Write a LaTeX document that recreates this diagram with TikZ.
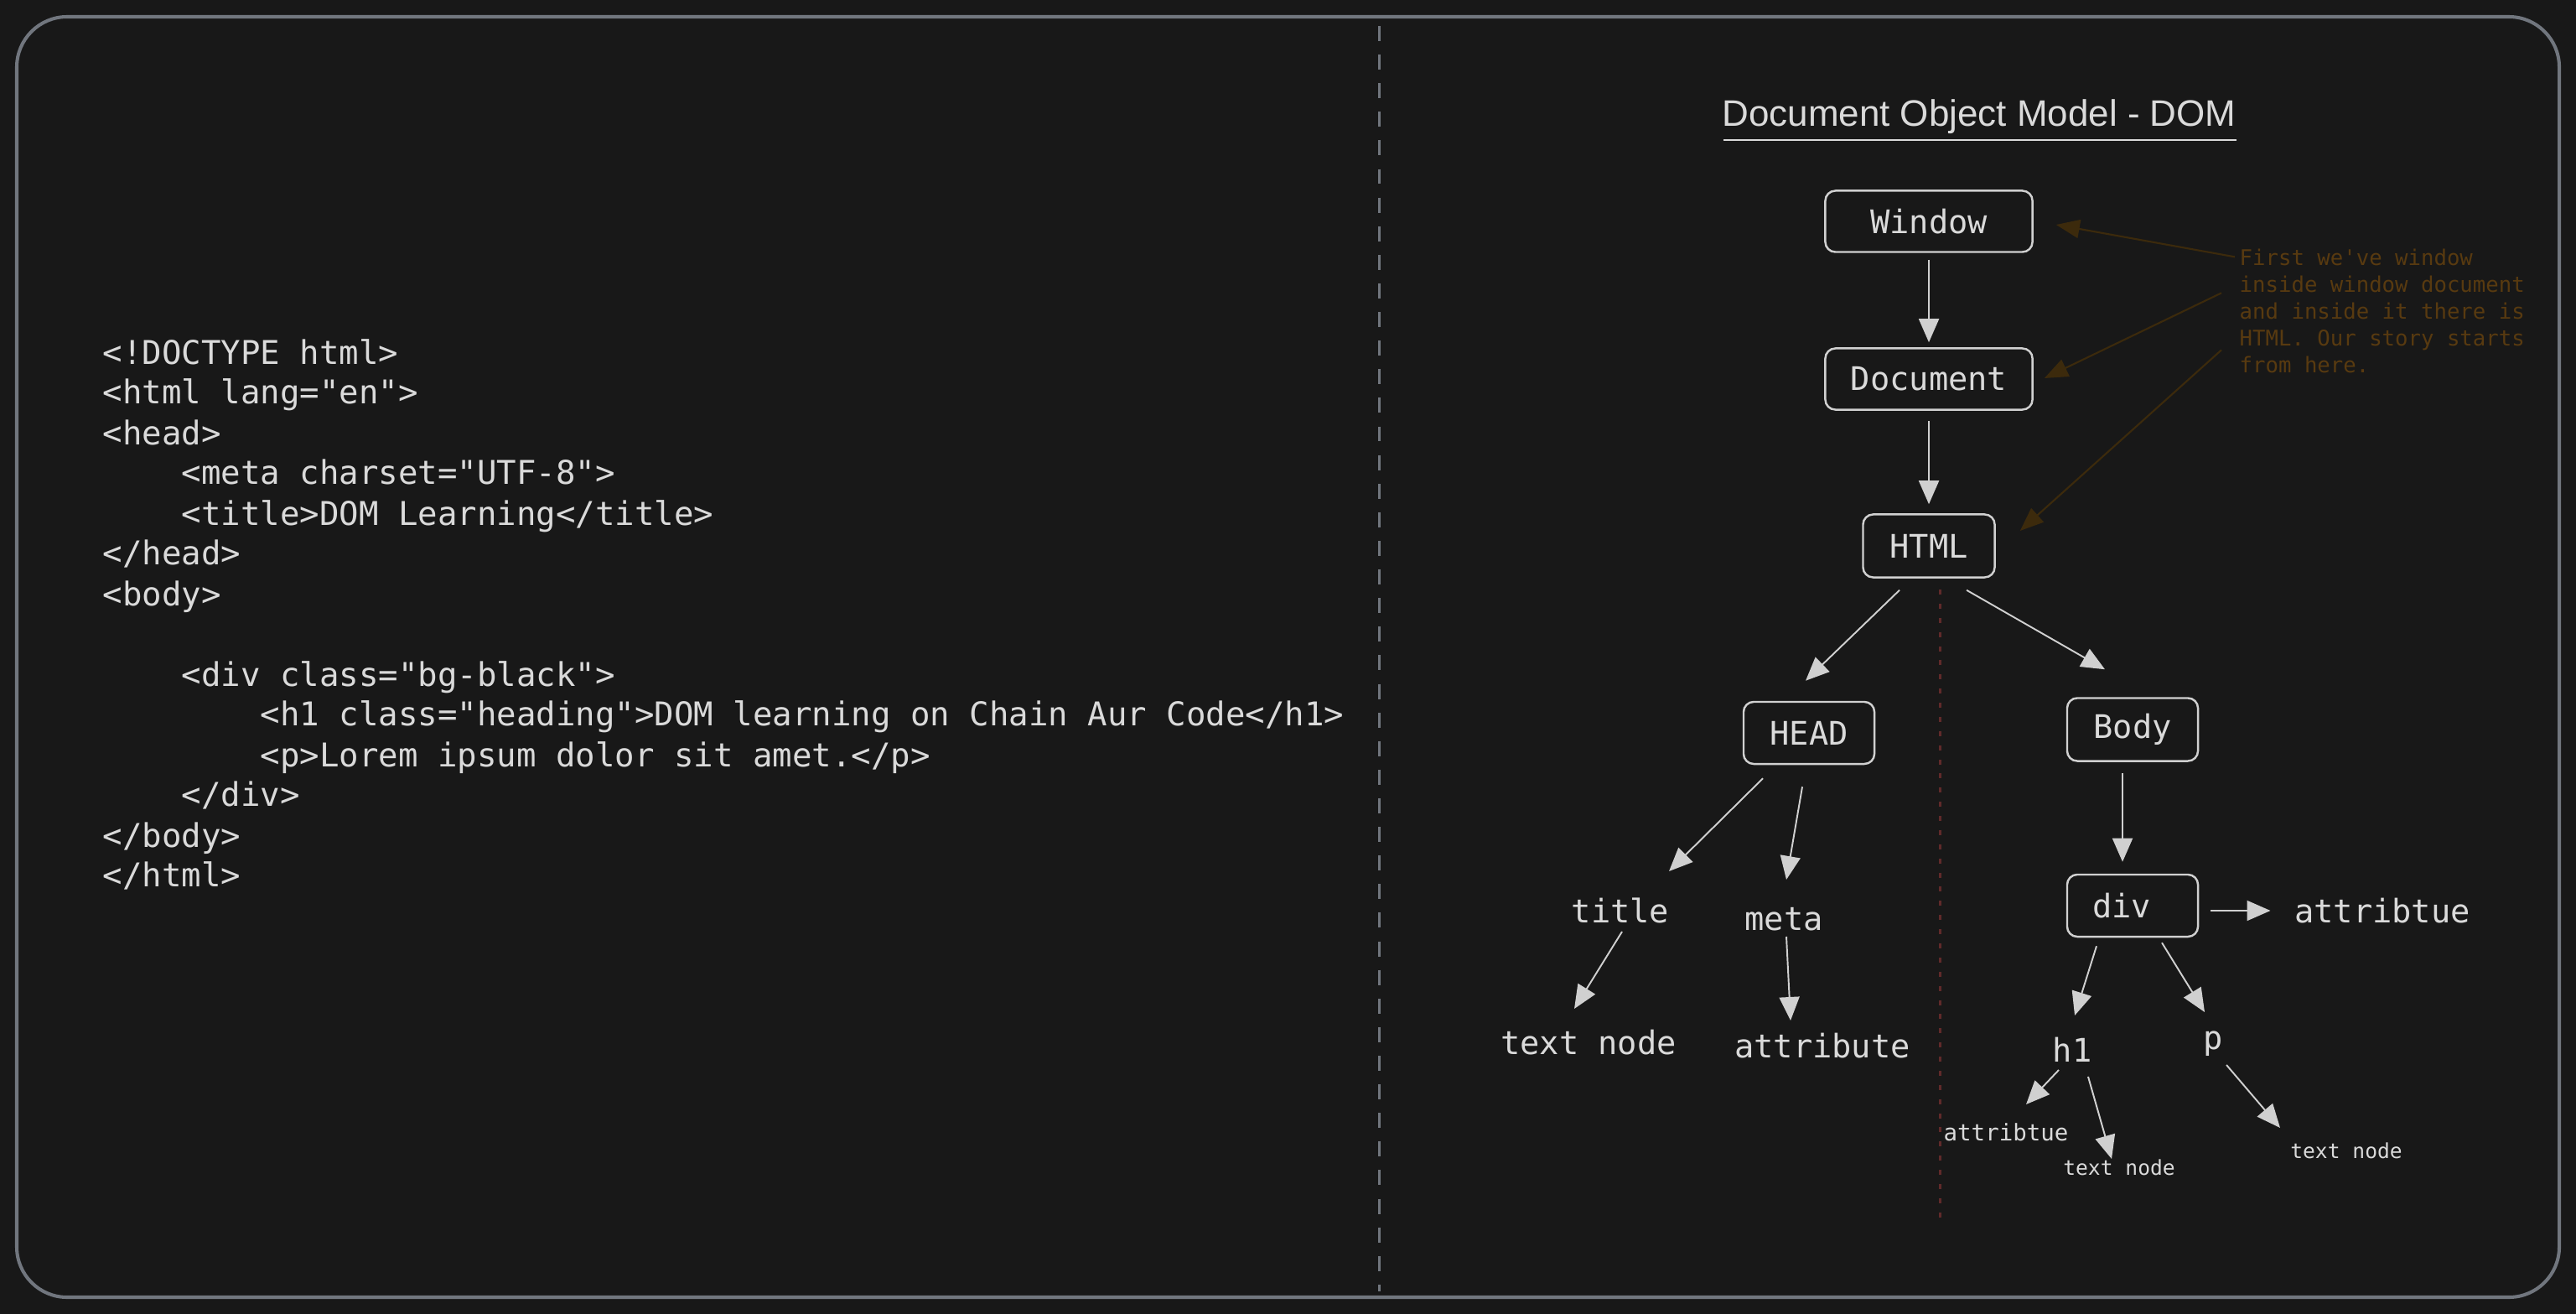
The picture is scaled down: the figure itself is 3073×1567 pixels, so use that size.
\documentclass[tikz,border=0pt]{standalone}
\usepackage{fontspec}
\setmainfont{Liberation Sans}
\setmonofont{DejaVu Sans Mono}
\usetikzlibrary{arrows.meta,calc}
\definecolor{bgc}{RGB}{24,24,24}
\definecolor{framec}{RGB}{113,118,126}
\definecolor{lightc}{RGB}{218,218,218}
\definecolor{boxc}{RGB}{208,208,208}
\definecolor{notec}{RGB}{88,58,16}
\definecolor{notearr}{RGB}{60,42,12}
\definecolor{redc}{RGB}{96,42,42}
\tikzset{
  codeline/.style={anchor=mid west,inner sep=0pt,text=lightc,font=\ttfamily\fontsize{11.1}{13}\selectfont},
  dombox/.style={draw=boxc,line width=0.7pt,rounded corners=0.12cm,text=lightc,
    font=\ttfamily\fontsize{11}{13}\selectfont,inner sep=0pt},
  plain/.style={inner sep=0pt,text=lightc,font=\ttfamily\fontsize{11}{13}\selectfont},
  smalltxt/.style={inner sep=0pt,text=lightc,font=\ttfamily\fontsize{7.4}{9}\selectfont},
  arr/.style={draw=boxc,line width=0.55pt,-{Triangle[length=0.28cm,width=0.24cm]}},
  notearrow/.style={draw=notearr,line width=0.6pt,-{Triangle[length=0.28cm,width=0.22cm]}},
}
\begin{document}
\begin{tikzpicture}[x=0.01cm,y=-0.01cm]
\fill[bgc] (0,0) rectangle (3073,1567);
\useasboundingbox (0,0) rectangle (3073,1567);
\draw[framec,line width=1.15pt,rounded corners=0.6cm] (20,20) rectangle (3053,1547);
% divider
\draw[framec,line width=0.85pt,dash pattern=on 5.1pt off 4.6pt] (1645,31) -- (1645,1540);

% code
\node[codeline] (c1) at (122,425) {<!DOCTYPE html>};
\node[codeline] (c2) at (122,472) {<html lang="en">};
\node[codeline] (c3) at (122,521) {<head>};
\node[codeline] (c4) at (216,568) {<meta charset="UTF-8">};
\node[codeline] (c5) at (216,617) {<title>DOM Learning</title>};
\node[codeline] (c6) at (122,664) {</head>};
\node[codeline] (c7) at (122,713) {<body>};
\node[codeline] (c8) at (216,809) {<div class="bg-black">};
\node[codeline] (c9) at (310,856) {<h1 class="heading">DOM learning on Chain Aur Code</h1>};
\node[codeline] (c10) at (310,905) {<p>Lorem ipsum dolor sit amet.</p>};
\node[codeline] (c11) at (216,952) {</div>};
\node[codeline] (c12) at (122,1001) {</body>};
\node[codeline] (c13) at (122,1048) {</html>};

% title
\node[inner sep=0pt,text=lightc,font=\fontsize{12.5}{14}\selectfont] (ttl) at (2361,139) {Document Object Model - DOM};
\draw[lightc,line width=0.85pt] (2056,167) -- (2668,167);

% red dashed guide
\draw[redc,line width=0.85pt,dash pattern=on 1.7pt off 3.1pt] (2314,703) -- (2314,1458);

% boxes
\node[dombox,minimum width=2.47cm,minimum height=0.73cm] (win) at (2301,264) {Window};
\node[dombox,minimum width=2.47cm,minimum height=0.73cm] (doc) at (2301,452) {Document};
\node[dombox,minimum width=1.57cm,minimum height=0.75cm] (html) at (2301,651) {HTML};
\node[dombox,minimum width=1.56cm,minimum height=0.74cm] (head) at (2158,874) {HEAD};
\node[dombox,minimum width=1.56cm,minimum height=0.75cm] (body) at (2544,870) {Body};
\node[dombox,minimum width=1.56cm,minimum height=0.74cm,text width=1.56cm,align=left] (div) at (2544,1080) {\hspace*{0.3cm}div};

% plain labels
\node[plain] (ttag) at (1933,1086) {title};
\node[plain] (meta) at (2128,1096) {meta};
\node[plain] (tn1) at (1895,1243) {text node};
\node[plain] (attr1) at (2174,1247) {attribute};
\node[plain] (attrR) at (2842,1086) {attribtue};
\node[plain] (h1) at (2472,1252) {h1};
\node[plain] (p) at (2640,1245) {p};
\node[smalltxt,font=\ttfamily\fontsize{7.8}{9}\selectfont] (attrS) at (2393,1350) {attribtue};
\node[smalltxt,font=\ttfamily\fontsize{7.0}{9}\selectfont] (tn2) at (2528,1392) {text node};
\node[smalltxt,font=\ttfamily\fontsize{7.0}{9}\selectfont] (tn3) at (2799,1372) {text node};

% note
\node[anchor=west,inner sep=0pt,align=left,text=notec,font=\ttfamily\fontsize{7.3}{9.1}\selectfont] (note) at (2671,371)
  {First we've window\\inside window document\\and inside it there is\\HTML. Our story starts\\from here.};

% tree arrows
\draw[arr] ($(win.south)+(0,8)$) -- ($(doc.north)+(0,-6)$);
\draw[arr] ($(doc.south)+(0,12)$) -- ($(html.north)+(0,-11)$);
\draw[arr] ($(html.south)+(-35,14)$) -- ($(head.north)+(-4,-24)$);
\draw[arr] ($(html.south)+(45,14)$) -- ($(body.north)+(-33,-33)$);
\draw[arr] ($(head.south)+(-55,16)$) -- ($(ttag.center)+(58,-47)$);
\draw[arr] ($(head.south)+(-8,26)$) -- ($(meta.center)+(3,-47)$);
\draw[arr] ($(ttag.center)+(2,25)$) -- ($(tn1.center)+(-17,-40)$);
\draw[arr] ($(meta.center)+(3,21)$) -- ($(attr1.center)+(-38,-30)$);
\draw[arr] ($(body.south)+(-12,13)$) -- ($(div.north)+(-12,-14)$);
\draw[arr] ($(div.east)+(14,6)$) -- ($(attrR.west)+(-28,0)$);
\draw[arr] ($(div.south)+(-43,10)$) -- ($(h1.center)+(3,-41)$);
\draw[arr] ($(div.south)+(35,6)$) -- ($(p.center)+(-10,-38)$);
\draw[arr] ($(h1.center)+(-16,24)$) -- ($(attrS.center)+(24,-33)$);
\draw[arr] ($(h1.center)+(19,32)$) -- ($(tn2.center)+(-9,-10)$);
\draw[arr] ($(p.center)+(16,25)$) -- ($(tn3.center)+(-79,-27)$);

% note arrows
\draw[notearrow] ($(note.north west)+(-5,10)$) -- ($(win.east)+(27,4)$);
\draw[notearrow] ($(note.north west)+(-21,53)$) -- ($(doc.east)+(13,-1)$);
\draw[notearrow] ($(note.north west)+(-21,121)$) -- ($(html.east)+(29,-18)$);
\end{tikzpicture}
\end{document}
